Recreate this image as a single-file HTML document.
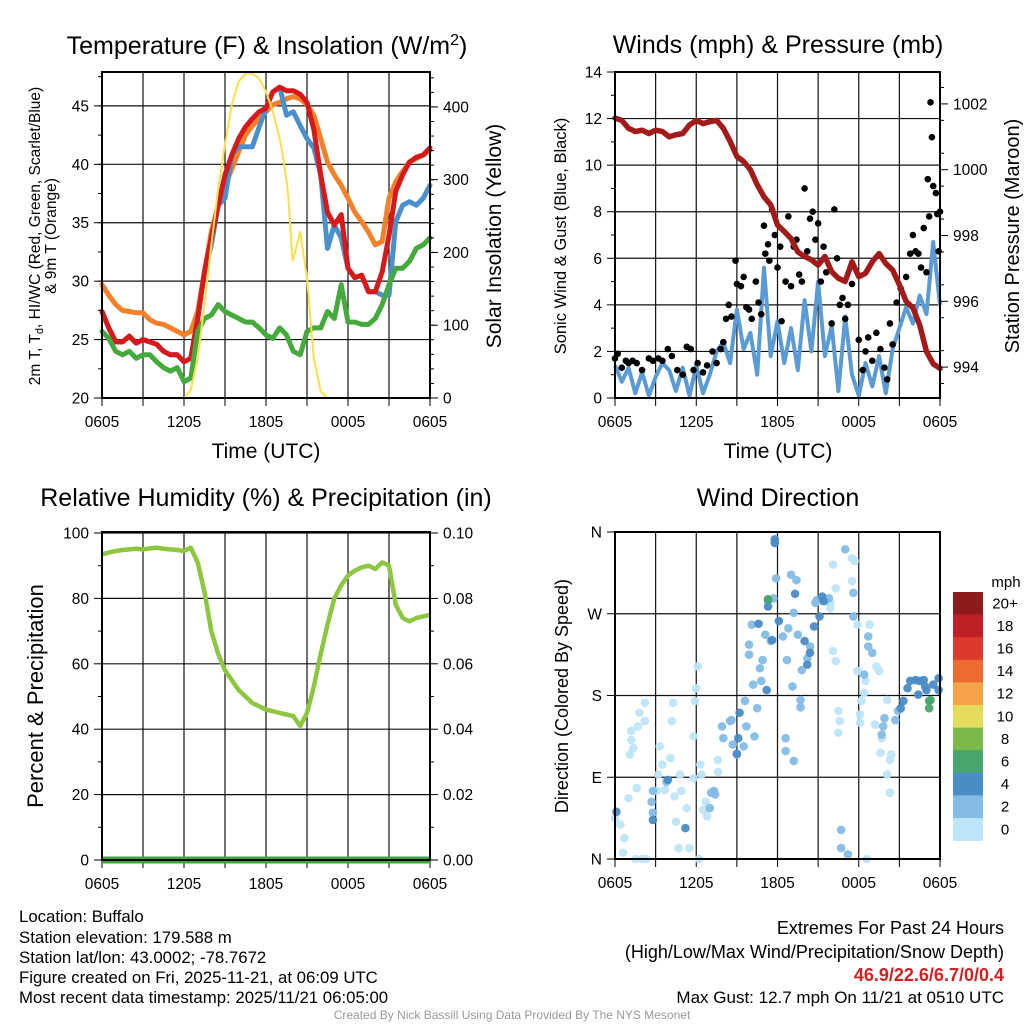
<!DOCTYPE html>
<html><head><meta charset="utf-8"><style>
body{margin:0;background:#fff;}
svg{display:block;font-family:"Liberation Sans",Arial,sans-serif;}
</style></head><body>
<svg id="chart" width="1024" height="1024" viewBox="0 0 1024 1024">
<rect x="0" y="0" width="1024" height="1024" fill="#fff"/>
<g id="g1"></g>
<g id="g2"></g>
<g id="g3"></g>
<g id="g4"></g>
<g id="gtext" font-size="16.8" fill="#000">
<text x="19" y="922">Location: Buffalo</text>
<text x="19" y="943">Station elevation: 179.588 m</text>
<text x="19" y="963">Station lat/lon: 43.0002; -78.7672</text>
<text x="19" y="983">Figure created on Fri, 2025-11-21, at 06:09 UTC</text>
<text x="19" y="1003">Most recent data timestamp: 2025/11/21 06:05:00</text>
<text x="1004" y="934" text-anchor="end" font-size="18">Extremes For Past 24 Hours</text>
<text x="1004" y="958" text-anchor="end" font-size="18">(High/Low/Max Wind/Precipitation/Snow Depth)</text>
<text x="1004" y="981" text-anchor="end" font-size="18" font-weight="bold" fill="#d42020">46.9/22.6/6.7/0/0.4</text>
<text x="1004" y="1003" text-anchor="end" font-size="17">Max Gust: 12.7 mph On 11/21 at 0510 UTC</text>
<text x="512" y="1019" text-anchor="middle" font-size="12" fill="#999">Created By Nick Bassill Using Data Provided By The NYS Mesonet</text>
</g>
</svg>
<script>
// ---------- data ----------
const hours = [0,0.5,1,1.5,2,2.5,3,3.5,4,4.5,5,5.5,6,6.5,7,7.5,8,8.5,9,9.5,10,10.5,11,11.5,12,12.5,13,13.5,14,14.5,15,15.5,16,16.5,17,17.5,18,18.5,19,19.5,20,20.5,21,21.5,22,22.5,23,23.5,24];
const xTickLabels = ["0605","1205","1805","0005","0605"];
const tempRed = [27.4,26.0,24.8,24.8,25.3,24.7,25.0,24.8,24.6,24.0,23.7,23.7,23.1,23.4,26.8,30.8,33.7,36.5,39.1,40.8,42.2,43.2,43.9,44.5,44.8,46.2,46.6,46.3,46.3,46.0,45.3,43.0,39.1,35.9,34.8,35.7,31.1,30.3,30.5,29.1,29.1,30.8,33.9,37.7,39.1,40.2,40.6,40.8,41.4];
const temp9m = [29.7,28.8,28.0,27.5,27.4,27.3,27.3,26.7,26.4,26.3,26.0,25.7,25.4,25.7,27.4,30.8,34.2,36.5,38.2,39.6,41.1,42.5,43.3,43.9,44.5,45.1,45.3,45.6,45.8,45.6,45.1,44.2,42.2,40.2,39.1,38.2,37.1,35.9,35.1,34.2,33.1,33.4,37.1,38.5,39.4,40.2,40.5,40.8,41.2];
const windChill = [27.4,26.0,24.8,24.8,25.3,24.7,25.0,24.8,24.6,24.0,23.7,23.7,23.1,23.4,26.8,30.8,33.1,36.5,37.1,40.8,41.5,41.5,41.5,43.2,44.8,46.2,46.6,44.2,44.5,43.3,42.2,41.4,39.1,32.8,34.8,33.7,31.1,30.3,30.5,29.1,29.1,28.8,28.8,35.1,36.5,36.8,36.5,37.1,38.2];
const dewpoint = [25.7,25.1,24.0,23.7,24.0,23.4,23.7,23.7,23.1,22.6,22.3,22.6,21.4,21.7,25.7,26.8,27.1,28.0,27.4,27.1,26.8,26.5,26.5,26.0,25.4,25.1,26.0,25.4,24.0,23.7,25.7,26.0,26.0,27.4,26.8,29.7,26.5,26.5,26.3,26.3,26.8,28.0,29.7,31.1,31.1,31.7,32.8,33.1,33.7];
const solarHours = [0,6,6.5,7,7.5,8,8.5,9,9.5,10,10.5,11,11.5,12,12.5,13,13.3,13.6,13.8,13.95,14.2,14.5,15,15.5,16,16.5,24];
const solarValues = [0,0,11,55,128,210,288,348,403,435,446,446,439,421,394,357,325,284,230,188,206,229,165,55,9,0,0];
const pressure = [1001.57,1001.5,1001.26,1001.16,1001.2,1001.1,1001.2,1001.16,1001.0,1001.06,1001.1,1001.36,1001.5,1001.4,1001.46,1001.5,1001.26,1000.86,1000.4,1000.25,1000.0,999.54,999.18,998.93,998.32,998.12,997.91,997.5,997.36,997.26,997.1,997.36,996.9,996.7,996.6,997.2,996.75,996.85,997.2,997.45,997.15,996.95,996.5,996.0,995.8,995.28,994.47,994.1,993.96];
const windSpeed = [1.4,0.7,1.3,0.2,1.1,0.1,0.9,1.5,1.2,0.3,1.3,0.1,1.4,0.2,1.0,2.0,2.4,1.5,3.8,2.1,2.8,1.0,5.6,1.8,3.3,1.5,3.0,1.2,4.2,2.0,5.0,1.8,3.1,0.3,3.5,1.0,0.1,1.5,0.5,1.8,0.2,2.1,3.0,3.9,3.2,4.4,3.6,6.7,4.0];
const gustHours = [0.0,0.2,0.5,0.8,1.0,1.3,1.6,2.0,2.5,2.8,3.2,3.5,3.9,4.2,4.6,5.0,5.3,5.6,5.8,6.1,6.5,6.8,7.2,7.5,7.8,8.0,8.2,8.4,8.6,8.9,9.0,9.3,9.5,9.7,9.9,10.1,10.4,10.6,10.8,11.0,11.1,11.3,11.4,11.6,11.8,12.0,12.2,12.3,12.6,12.8,13.0,13.2,13.4,13.6,13.8,14.0,14.2,14.4,14.6,14.8,15.0,15.2,15.4,15.6,16.0,16.2,16.4,16.6,16.8,17.0,17.2,17.5,18.0,18.3,18.5,18.7,19.0,19.3,19.6,19.9,20.1,20.3,20.5,20.8,21.1,21.5,21.8,22.0,22.2,22.4,22.6,22.8,23.0,23.1,23.3,23.4,23.5,23.7,23.8,24.0,23.9,23.2];
const gustValues = [1.7,1.9,1.3,1.6,1.5,1.6,1.5,1.2,1.7,1.6,1.7,1.6,2.1,1.8,1.2,1.0,2.2,2.1,1.2,1.5,1.1,1.4,2.0,1.5,2.1,2.4,3.4,4.0,3.5,5.9,4.9,4.8,5.2,3.9,3.8,3.4,5.0,4.1,3.6,7.4,6.2,6.6,5.9,8.1,7.0,5.6,6.5,3.3,5.0,7.8,4.8,6.5,6.8,5.3,5.0,9.0,6.3,7.7,8.0,6.8,7.5,5.0,6.5,5.4,3.2,8.1,6.0,4.0,4.3,3.4,4.0,4.9,2.5,1.2,2.0,2.6,1.6,2.8,2.1,1.3,0.8,3.2,2.3,4.1,4.7,5.2,6.2,7.0,6.3,6.2,5.6,7.3,5.4,9.4,12.7,11.2,9.1,8.8,7.9,8.0,6.3,7.8];
const rhValues = [93.5,94,94.5,94.8,95,95.2,95,95.3,95.5,95.2,95,94.8,94.5,95.5,91,82,70,63,58,55,52,50,48,47,46,45.5,45,44.5,44,41,45,53,63,72,80,84,87,88.5,89.5,90,89,91,90,78,74,73,74,74.5,75];
const precipValues = hours.map(()=>0);
const dirHours = [0,0.4,0.6,0.7,1.0,1.1,1.2,1.35,1.2,1.8,2.2,1.7,2.2,1.6,1.5,2.0,2.3,3.1,3.3,3.2,3.5,3.7,4.1,4.2,4.3,4.4,4.8,4.9,4.5,4.7,5.3,5.5,5.8,5.9,6.0,6.1,5.8,6.3,6.4,6.5,6.8,6.7,6.2,7.6,7.6,
 16.1,16.3,17.5,17.7,17.5,17.9,18.8,16.1,16.3,17.9,18.5,19.3,19.5,18.4,18.2,18.1,18.1,16.5,16.5,16.6,19.2,20.1,20.1,20.3,20.4,19.7,19.6,20.3,18.6,15.9,15.9,
 0.1,2.8,3.8,2.8,2.7,7.1,7.3,7.4,7.0,7.9,8.0,8.5,8.6,8.7,9.0,9.5,9.6,9.7,10.3,10.5,10.1,9.9,9.9,10.2,10.7,10.8,11.1,10.9,11.5,11.7,11.9,12.4,12.7,12.8,13.0,13.2,13.4,13.1,12.6,12.6,13.2,13.7,13.7,13.5,13.8,14.2,14.4,14.8,14.9,15.5,15.8,17.0,17.6,17.6,18.7,18.7,19.0,18.4,19.9,19.8,19.7,20.7,20.9,16.7,16.7,17.2,
 11.8,11.8,11.3,11.3,10.6,11.6,12.1,13.3,11.2,9.2,9.1,9.0,2.8,3.9,5.2,14.0,14.4,14.2,14.7,15.3,15.4,15.1,21.1,21.3,21.6,21.8,22.2,22.5,22.8,23.0,23.5,23.9,23.9,22.4,22.9,
 11.3,23.2,23.3,23.2];
const dirDegrees = [45,38,7,23,67,115,131,122,141,161,152,146,172,78,0,0,0,75,124,93,104,76,111,152,172,69,93,75,41,12,56,12,135,174,188,212,89,104,93,54,47,63,0,96,109,
 324,298,331,328,306,258,258,229,218,207,196,212,207,183,174,159,150,163,139,152,148,175,93,109,115,133,117,73,0,276,282,
 52,75,85,51,63,73,75,71,56,146,133,152,153,126,115,124,174,146,135,166,258,225,236,192,210,196,247,219,240,287,309,245,219,254,313,271,307,190,133,119,108,175,167,247,208,221,234,282,285,284,287,341,293,267,245,234,227,203,155,146,137,153,163,32,12,5,
 348,352,285,278,259,241,262,292,186,161,133,116,43,87,34,240,227,214,256,289,284,267,166,174,188,196,197,196,197,186,192,199,186,181,190,
 286,174,175,166];
const dirSpeeds = [1,1,1,1,1,1,1,1,1,1,1,1,1,1,1,1,1,1,1,1,1,1,1,1,1,1,1,1,1,1,1,1,1,1,1,1,1,1,1,1,1,1,1,1,1,
 1,1,1,1,1,1,1,1,1,1,1,1,1,1,1,1,1,1,1,1,1,1,1,1,1,1,1,1,1,1,1,
 5,3,3,3,3,3,3,3,3,3,3,3,3,3,3,3,3,3,3,3,3,3,3,3,3,3,3,3,3,3,3,3,3,3,3,3,3,3,3,3,3,3,3,3,3,3,3,3,3,3,3,3,3,3,3,3,3,3,3,3,3,3,3,3,3,3,
 5,5,5,5,5,5,5,5,5,5,5,5,5,5,5,5,5,5,5,5,5,5,5,5,5,5,5,5,5,5,5,5,5,5,5,
 7,7,7,7];
const cbLabels = ["20+","18","16","14","12","10","8","6","4","2","0"];
const cbColors = ["#8e1a1c","#bf1f26","#dc3a2c","#ee6a30","#f5a448","#e3dc5c","#7bb94a","#49a56e","#4a8cc6","#84bce6","#bde5f8"];

// ---------- helpers ----------
const NS="http://www.w3.org/2000/svg";
function mk(parent,tag,attrs){const e=document.createElementNS(NS,tag);for(const k in attrs)e.setAttribute(k,attrs[k]);parent.appendChild(e);return e;}
function lin(d0,d1,r0,r1){return v=>r0+(v-d0)*(r1-r0)/(d1-d0);}
function pathFrom(xs,ys,fx,fy){return xs.map((x,i)=>(i?'L':'M')+fx(x).toFixed(1)+','+fy(ys[i]).toFixed(1)).join('');}

function frame(g,x0,x1,y0,y1,fxh){
  for(let h=0;h<=24;h+=3){
    const l=mk(g,'line',{x1:fxh(h),x2:fxh(h),y1:y0,y2:y1,stroke:'#111','stroke-width':1.2});
    
    
    const t=mk(g,'line',{x1:fxh(h),x2:fxh(h),y1:y1,y2:y1+8,stroke:'#000','stroke-width':1});
    
    
  }
  xTickLabels.forEach((s,i)=>{
    const t=mk(g,'text',{x:fxh(i*6),y:y1+29,'text-anchor':'middle','font-size':15.5});
    t.textContent=s;
    
    
  });
}
function hgrid(g,x0,x1,ys){
  ys.forEach(y=>{
    const l=mk(g,'line',{x1:x0,x2:x1,y1:y,y2:y,stroke:'#111','stroke-width':1.2});
    
    
  });
}
function border(g,x0,x1,y0,y1){
  const r=mk(g,'rect',{x:x0,y:y0,width:x1-x0,height:y1-y0,fill:'none',stroke:'#000','stroke-width':2});
  
  
}
function yTicks(g,xAxis,fy,vals,labels,side,minorVals){
  const dir=side==='left'?-1:1;
  (minorVals||[]).forEach(v=>{
    const t=mk(g,'line',{x1:xAxis,x2:xAxis+dir*4,y1:fy(v),y2:fy(v),stroke:'#000','stroke-width':1});
    
    
  });
  vals.forEach((v,i)=>{
    const t=mk(g,'line',{x1:xAxis,x2:xAxis+dir*8,y1:fy(v),y2:fy(v),stroke:'#000','stroke-width':1});
    
    
    const tx=mk(g,'text',{x:xAxis+dir*13,y:fy(v)+5.5,'text-anchor':side==='left'?'end':'start','font-size':15.5});
    tx.textContent=labels[i];
    
    
  });
}
function label(g,txt,x,y,size,rot,name){
  const t=mk(g,'text',{x:x,y:y,'text-anchor':'middle','font-size':size});
  if(rot)t.setAttribute('transform','rotate(-90 '+x+' '+y+')');
  t.textContent=txt;
  
  
  return t;
}
function range(a,b,s){const r=[];for(let v=a;v<=b+1e-9;v+=s)r.push(+v.toFixed(4));return r;}

// ---------- Panel 1 ----------
(function(){
  const g=document.getElementById('g1');
  const x0=102,x1=430,y0=72,y1=398;
  const fx=lin(0,24,x0,x1), fy=lin(20,47.9,y1,y0), fs=lin(0,448,y1,y0);
  const major=range(20,45,5);
  hgrid(g,x0,x1,major.map(fy));
  frame(g,x0,x1,y0,y1,fx);
  [[temp9m,'#f4812a','9m-temperature-line'],[windChill,'#4a90cc','wind-chill-line'],[tempRed,'#d7191c','2m-temperature-line'],[dewpoint,'#44aa3c','dewpoint-line']].forEach(s=>{
    const p=mk(g,'path',{d:pathFrom(hours,s[0],fx,fy),fill:'none',stroke:s[1],'stroke-width':5,'stroke-linejoin':'round','stroke-linecap':'round'});
    
    
  });
  const sp=mk(g,'path',{d:pathFrom(solarHours,solarValues,fx,fs),fill:'none',stroke:'#f9e04b','stroke-width':2});
  
  
  border(g,x0,x1,y0,y1);
  yTicks(g,x0,fy,major,major.map(String),'left',range(22.5,47.5,2.5));
  const sv=range(0,400,100);
  yTicks(g,x1,fs,sv,sv.map(String),'right',range(0,440,20));
  const tt=mk(g,'text',{x:267,y:54,'text-anchor':'middle','font-size':25});
  tt.innerHTML='Temperature (F) &amp; Insolation (W/m<tspan dy="-9" font-size="16">2</tspan><tspan dy="9">)</tspan>';
  
  
  const yl=mk(g,'text',{x:40,y:236,'text-anchor':'middle','font-size':15.5,transform:'rotate(-90 40 236)'});
  yl.innerHTML='2m T, T<tspan dy="3" font-size="11">d</tspan><tspan dy="-3">, HI/WC (Red, Green, Scarlet/Blue)</tspan>';
  
  
  label(g,'& 9m T (Orange)',56,236,15.5,true,'temperature-y-axis-title-line2');
  label(g,'Solar Insolation (Yellow)',501,236,21,true,'solar-y-axis-title');
  label(g,'Time (UTC)',266,458,21,false,'x-axis-title');
})();

// ---------- Panel 2 ----------
(function(){
  const g=document.getElementById('g2');
  const x0=615,x1=940,y0=72,y1=398;
  const fx=lin(0,24,x0,x1), fy=lin(0,14,y1,y0), fp=lin(993.06,1002.97,y1,y0);
  const major=range(0,14,2);
  hgrid(g,x0,x1,major.map(fy));
  frame(g,x0,x1,y0,y1,fx);
  const wp=mk(g,'path',{d:pathFrom(hours,windSpeed,fx,fy),fill:'none',stroke:'#5b9bd5','stroke-width':4,'stroke-linejoin':'round'});
  
  
  gustHours.forEach((h,i)=>{
    const c=mk(g,'circle',{cx:fx(h),cy:fy(gustValues[i]),r:3.3,fill:'#000'});
    
    
  });
  const pp=mk(g,'path',{d:pathFrom(hours,pressure,fx,fp),fill:'none',stroke:'#a31a1a','stroke-width':5.5,'stroke-linejoin':'round','stroke-linecap':'round'});
  
  
  border(g,x0,x1,y0,y1);
  yTicks(g,x0,fy,major,major.map(String),'left',range(1,13,2));
  const pv=range(994,1002,2);
  yTicks(g,x1,fp,pv,pv.map(String),'right',range(993.5,1002.5,1));
  label(g,'Winds (mph) & Pressure (mb)',778,53,25,false,'wind-panel-title');
  label(g,'Sonic Wind & Gust (Blue, Black)',566,236,16.5,true,'wind-y-axis-title');
  label(g,'Station Pressure (Maroon)',1019,236,20,true,'pressure-y-axis-title');
  label(g,'Time (UTC)',778,458,21,false,'x-axis-title');
})();

// ---------- Panel 3 ----------
(function(){
  const g=document.getElementById('g3');
  const x0=102,x1=430,y0=532,y1=860;
  const fx=lin(0,24,x0,x1), fy=lin(0,100,y1,533), fp=lin(0,0.1,y1,533);
  const major=range(0,100,20);
  hgrid(g,x0,x1,major.map(fy));
  frame(g,x0,x1,y0,y1,fx);
  const rp=mk(g,'path',{d:pathFrom(hours,rhValues,fx,fy),fill:'none',stroke:'#8dc63f','stroke-width':4.5,'stroke-linejoin':'round'});
  
  
  const pr=mk(g,'path',{d:pathFrom(hours,precipValues,fx,fp),fill:'none',stroke:'#3ca63c','stroke-width':7});
  
  
  border(g,x0,x1,y0,y1);
  yTicks(g,x0,fy,major,major.map(String),'left',range(10,90,20));
  const pv=range(0,0.1,0.02);
  yTicks(g,x1,fp,pv,pv.map(v=>v.toFixed(2)),'right',range(0.01,0.09,0.02));
  label(g,'Relative Humidity (%) & Precipitation (in)',266,506,25,false,'humidity-panel-title');
  label(g,'Percent & Precipitation',43,696,22,true,'humidity-y-axis-title');
})();

// ---------- Panel 4 ----------
(function(){
  const g=document.getElementById('g4');
  const x0=615,x1=940,y0=532,y1=859;
  const fx=lin(0,24,x0,x1), fy=lin(0,360,y1,y0);
  const major=[0,90,180,270,360];
  hgrid(g,x0,x1,major.map(fy));
  frame(g,x0,x1,y0,y1,fx);
  function colorFor(s){const idx=Math.min(10,Math.floor(s/2));return cbColors[10-idx];}
  dirHours.forEach((h,i)=>{
    const c=mk(g,'circle',{cx:fx(h),cy:fy(dirDegrees[i]),r:4.3,fill:colorFor(dirSpeeds[i]),'fill-opacity':0.95});
    
    
  });
  border(g,x0,x1,y0,y1);
  yTicks(g,x0,fy,major,['N','E','S','W','N'],'left',[]);
  label(g,'Wind Direction',778,506,25,false,'wind-direction-panel-title');
  label(g,'Direction (Colored By Speed)',568,696,18,true,'direction-y-axis-title');
  const cb=mk(g,'g',{});
  
  
  const top=592,bh=22.6;
  cbColors.forEach((c,i)=>{
    const r=mk(cb,'rect',{x:953,y:top+i*bh,width:30,height:bh+0.3,fill:c});
    
    
    const t=mk(cb,'text',{x:1005,y:top+i*bh+bh/2+5,'text-anchor':'middle','font-size':15});
    t.textContent=cbLabels[i];
    
    
  });
  const u=mk(cb,'text',{x:1006,y:587,'text-anchor':'middle','font-size':15});
  u.textContent='mph';
  
  
})();
</script>
</body></html>
